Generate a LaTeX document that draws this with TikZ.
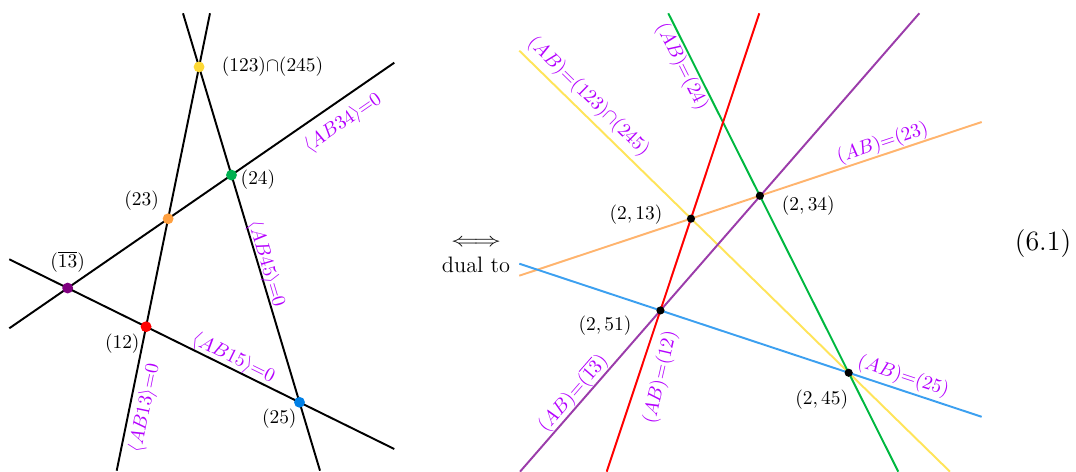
\documentclass[tikz,border=0pt]{standalone}
\usepackage{amsmath}
\usepackage{graphicx}
\definecolor{labviolet}{RGB}{180,0,255}
\definecolor{dotyellow}{RGB}{253,216,53}
\definecolor{dotgreen}{RGB}{0,176,80}
\definecolor{dotorange}{RGB}{255,160,64}
\definecolor{dotpurple}{RGB}{128,0,128}
\definecolor{dotred}{RGB}{255,0,0}
\definecolor{dotblue}{RGB}{0,128,230}
\definecolor{lnyellow}{RGB}{255,228,90}
\definecolor{lngreen}{RGB}{0,184,64}
\definecolor{lnred}{RGB}{255,0,0}
\definecolor{lnpurple}{RGB}{155,60,170}
\definecolor{lnorange}{RGB}{255,180,110}
\definecolor{lnblue}{RGB}{60,160,240}
\begin{document}
\begin{tikzpicture}[x=0.515pt,y=-0.515pt,
  geoline/.style={line width=1pt},
  bigdot/.style={circle,inner sep=0pt,minimum size=5.6pt,fill=#1},
  smalldot/.style={circle,inner sep=0pt,minimum size=4.2pt,fill=black},
  lab/.style={text=labviolet,inner sep=0pt},
  ptlab/.style={text=black,inner sep=0pt}]
\useasboundingbox (0,0) rectangle (1076,472);
% ---------- left panel ----------
\coordinate (L13a) at (210,13.3);   \coordinate (L13b) at (116.7,470.7);
\coordinate (L45a) at (183,13.3);   \coordinate (L45b) at (320,470.7);
\coordinate (L34a) at (9.3,328.3);  \coordinate (L34b) at (394.3,62.7);
\coordinate (L15a) at (9.3,259.3);  \coordinate (L15b) at (394.3,449);
\draw[geoline] (L13a) -- (L13b);
\draw[geoline] (L45a) -- (L45b);
\draw[geoline] (L34a) -- (L34b);
\draw[geoline] (L15a) -- (L15b);
\node[bigdot=dotyellow] (pY) at (intersection of L13a--L13b and L45a--L45b) {};
\node[bigdot=dotgreen]  (pG) at (intersection of L45a--L45b and L34a--L34b) {};
\node[bigdot=dotorange] (pO) at (intersection of L13a--L13b and L34a--L34b) {};
\node[bigdot=dotpurple] (pP) at (intersection of L34a--L34b and L15a--L15b) {};
\node[bigdot=dotred]    (pR) at (intersection of L13a--L13b and L15a--L15b) {};
\node[bigdot=dotblue]   (pB) at (intersection of L45a--L45b and L15a--L15b) {};
\node[ptlab] (tY) at (272.5,67) {${(123)}{\cap}{(245)}$};
\node[ptlab] (tG) at (258,180) {$(24)$};
\node[ptlab] (tO) at (141.7,200.7) {$(23)$};
\node[ptlab] (tP) at (67.7,261.7) {$(\overline{13})$};
\node[ptlab] (tR) at (122.3,343.3) {$(12)$};
\node[ptlab] (tB) at (279.3,418.3) {$(25)$};
\node[lab,rotate=34.6] (l34) at (343,123) {$\langle AB34\rangle{=}0$};
\node[lab,rotate=-73.3] (l45) at (266,264) {$\langle AB45\rangle{=}0$};
\node[lab,rotate=-26.2] (l15) at (233.3,358.3) {$\langle AB15\rangle{=}0$};
\node[lab,rotate=78.5] (l13) at (145,408.3) {$\langle AB13\rangle{=}0$};
% ---------- dual to ----------
\node[inner sep=0pt] (arr) at (476,243.3) {\scalebox{1.4}[1]{$\Longleftrightarrow$}};
\node[inner sep=0pt,font=\fontsize{11.5}{13}\selectfont] (dual) at (476,265) {dual to};
% ---------- right panel ----------
\coordinate (Ya) at (519.3,50.7);   \coordinate (Yb) at (950,471.7);
\coordinate (Ga) at (668.3,13.3);   \coordinate (Gb) at (898.3,471.7);
\coordinate (Ra) at (759.3,13.3);   \coordinate (Rb) at (606.7,471.7);
\coordinate (Pa) at (919.3,13.3);   \coordinate (Pb) at (520,471.7);
\coordinate (Oa) at (519.3,275.7);  \coordinate (Ob) at (981.7,122);
\coordinate (Ba) at (519.3,263.7);  \coordinate (Bb) at (981.7,416.8);
\draw[geoline,lnyellow] (Ya) -- (Yb);
\draw[geoline,lnorange] (Oa) -- (Ob);
\draw[geoline,lnblue] (Ba) -- (Bb);
\draw[geoline,lnpurple] (Pa) -- (Pb);
\draw[geoline,lngreen] (Ga) -- (Gb);
\draw[geoline,lnred] (Ra) -- (Rb);
\node[smalldot] (q13) at (intersection of Ra--Rb and Oa--Ob) {};
\node[smalldot] (q34) at (intersection of Ga--Gb and Oa--Ob) {};
\node[smalldot] (q51) at (intersection of Ra--Rb and Ba--Bb) {};
\node[smalldot] (q45) at (intersection of Ga--Gb and Ba--Bb) {};
\node[ptlab] (s13) at (636,215) {$(2,13)$};
\node[ptlab] (s34) at (808.3,206) {$(2,34)$};
\node[ptlab] (s51) at (605,326) {$(2,51)$};
\node[ptlab] (s45) at (821.7,400) {$(2,45)$};
\node[lab,rotate=-44.4] (rY) at (588.3,96.7) {$(AB){=}{(123)}{\cap}{(245)}$};
\node[lab,rotate=-63.4] (rG) at (681.7,66.7) {$(AB){=}(24)$};
\node[lab,rotate=18.4] (rO) at (882.7,143.3) {$(AB){=}(23)$};
\node[lab,rotate=-18.3] (rB) at (903.3,376.7) {$(AB){=}(25)$};
\node[lab,rotate=48.9] (rP) at (572.7,393.3) {$(AB){=}(\overline{13})$};
\node[lab,rotate=77] (rR) at (660.7,377.5) {$(AB){=}(12)$};
% ---------- equation number ----------
\node[inner sep=0pt,font=\Large] (eqn) at (1043,244) {(6.1)};
\end{tikzpicture}
\end{document}
